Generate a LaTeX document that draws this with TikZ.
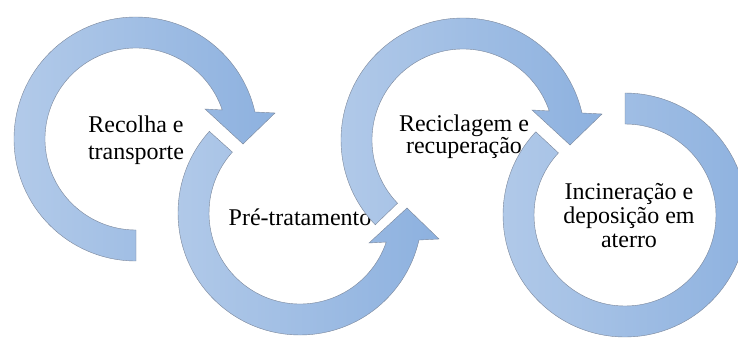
\documentclass[tikz,border=0pt]{standalone}
\usepackage{fontspec}
\setmainfont{Liberation Serif}
\definecolor{arrL}{HTML}{B2CAE9}
\definecolor{arrR}{HTML}{8DB1DF}
\definecolor{arrEdge}{HTML}{7A869A}
\begin{document}
\begin{tikzpicture}[x=1pt, y=1pt,
  arrowshape/.style={draw=arrEdge, line width=0.4pt, left color=arrL, right color=arrR},
  lbl/.style={align=center, inner sep=0pt, text=black}]
\useasboundingbox (0,0) rectangle (738,338);
\clip (0,0) rectangle (738,338);
% arrow 1 : Recolha e transporte (clockwise)
\begin{scope}[shift={(136,199)}]
\path[arrowshape] (270:122) arc[start angle=270, end angle=12.8, radius=122pt]
  -- (139,26) -- (107,-5) -- (69,30) -- (18.6:91)
  arc[start angle=18.6, end angle=270, radius=91pt] -- cycle;
\end{scope}
\node[lbl, font=\fontsize{24}{27}\selectfont] (t1) at (136,198) {Recolha e\\transporte};
% arrow 2 : Pre-tratamento (counter-clockwise)
\begin{scope}[shift={(300,125)}]
\path[arrowshape] (138:122) arc[start angle=138, end angle=347.2, radius=122pt]
  -- (139,-26) -- (107,5) -- (69,-30) -- (341.4:91)
  arc[start angle=341.4, end angle=138, radius=91pt] -- cycle;
\end{scope}
\node[lbl, font=\fontsize{24}{27}\selectfont, anchor=base] (t2) at (300,113) {Pré-tratamento};
% arrow 3 : Reciclagem e recuperacao (clockwise)
\begin{scope}[shift={(463,198)}]
\path[arrowshape] (224:122) arc[start angle=224, end angle=12.8, radius=122pt]
  -- (139,26) -- (107,-5) -- (69,30) -- (18.6:91)
  arc[start angle=18.6, end angle=224, radius=91pt] -- cycle;
\end{scope}
\node[lbl, font=\fontsize{24}{22}\selectfont] (t3) at (464,201) {Reciclagem e\\recuperação};
% arrow 4 : Incineracao e deposicao em aterro (counter-clockwise, no head)
\begin{scope}[shift={(625,123)}]
\path[arrowshape] (137:122) arc[start angle=137, end angle=450, radius=122pt]
  -- (450:91) arc[start angle=450, end angle=137, radius=91pt] -- cycle;
\end{scope}
\node[lbl, font=\fontsize{24}{24}\selectfont] (t4) at (629,122.5) {Incineração e\\deposição em\\aterro};
\end{tikzpicture}
\end{document}
